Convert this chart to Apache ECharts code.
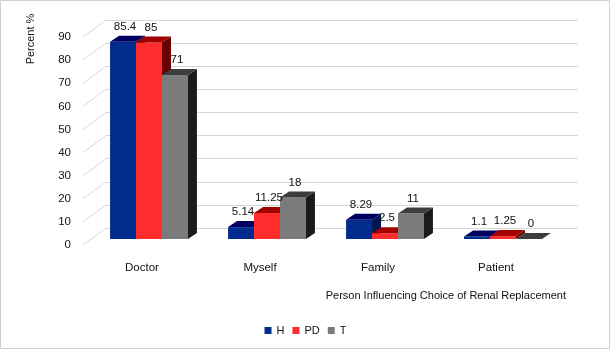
<!DOCTYPE html>
<html>
<head>
<meta charset="utf-8">
<script src="https://cdn.jsdelivr.net/npm/echarts@6/dist/echarts.min.js"></script>
<style>
  html, body { margin: 0; padding: 0; background: #fff; }
  #chart { width: 611px; height: 350px; }
</style>
</head>
<body>
<div id="chart"></div>
<script>
// data
const categories = ['Doctor', 'Myself', 'Family', 'Patient'];
const seriesNames = ['H', 'PD', 'T'];
const hValues = [85.4, 5.14, 8.29, 1.1];
const pdValues = [85, 11.25, 2.5, 1.25];
const tValues = [71, 18, 11, 0];
const yTicks = [0, 10, 20, 30, 40, 50, 60, 70, 80, 90];

const FONT = 'Liberation Sans';
const TEXT = '#111';
const GRID_LINE = '#d6d6d6';
const DEPTH = [9, -6];   // bar depth offset
const WALL = [23, -17];  // front plane -> back wall

const faces = [
  { front: '#002C8E', top: '#000060', side: '#001650' },
  { front: '#FF2D2D', top: '#A30000', side: '#6A0000' },
  { front: '#7B7B7B', top: '#3D3D3D', side: '#1B1B1B' }
];
const allValues = [hValues, pdValues, tValues];

// front face of a 3D column, with its top and right side
function barRenderer(slot) {
  const c = faces[slot];
  return function (params, api) {
    const cat = api.value(0);
    const top = api.coord([cat, api.value(1)]);
    const base = api.coord([cat, 0]);
    const bw = api.size([1, 0])[0] * 0.22;
    const x0 = top[0] + (slot - 1) * bw - bw / 2;
    const x1 = x0 + bw;
    const y0 = top[1], y1 = base[1];
    const dx = DEPTH[0], dy = DEPTH[1];
    return {
      type: 'group',
      children: [
        { type: 'polygon', shape: { points: [[x0, y1], [x1, y1], [x1, y0], [x0, y0]] }, style: { fill: c.front } },
        { type: 'polygon', shape: { points: [[x1, y1], [x1 + dx, y1 + dy], [x1 + dx, y0 + dy], [x1, y0]] }, style: { fill: c.side } },
        { type: 'polygon', shape: { points: [[x0, y0], [x1, y0], [x1 + dx, y0 + dy], [x0 + dx, y0 + dy]] }, style: { fill: c.top } }
      ]
    };
  };
}

function labelRenderer(params, api) {
  const cat = api.value(0), val = api.value(1), slot = api.value(2);
  const top = api.coord([cat, val]);
  const bw = api.size([1, 0])[0] * 0.22;
  const cx = top[0] + (slot - 1) * bw + 2;
  return {
    type: 'text',
    style: {
      text: String(val), x: cx, y: top[1] + DEPTH[1] - 3,
      align: 'center', verticalAlign: 'bottom',
      font: '11.5px "' + FONT + '"', fill: TEXT
    }
  };
}

// slanted lines from the value labels back to the wall
function wallRenderer(params, api) {
  const y = api.coord([0, api.value(1)])[1];
  const x = params.coordSys.x;
  return {
    type: 'line',
    shape: { x1: x, y1: y, x2: x + WALL[0], y2: y + WALL[1] },
    style: { stroke: GRID_LINE, lineWidth: 1 }
  };
}

const labelData = [];
allValues.forEach((arr, s) => arr.forEach((v, i) => labelData.push([i, v, s])));

const chart = echarts.init(document.getElementById('chart'));
chart.setOption({
  animation: false,
  textStyle: { fontFamily: FONT, color: TEXT },
  grid: [
    { left: 90, right: 49, top: 31, bottom: 111 },   // bar front faces
    { left: 106, right: 33, top: 20, bottom: 122 },  // back wall
    { left: 83, right: 56, top: 37, bottom: 105 }    // front plane, axis labels
  ],
  xAxis: [
    { type: 'category', gridIndex: 0, data: categories, show: false },
    { type: 'category', gridIndex: 1, data: categories, show: false },
    {
      type: 'category', gridIndex: 2, data: categories,
      axisLine: { show: false }, axisTick: { show: false },
      axisLabel: { fontSize: 11.5, color: TEXT, margin: 17 }
    }
  ],
  yAxis: [
    { type: 'value', gridIndex: 0, min: 0, max: 90, interval: 10, show: false },
    {
      type: 'value', gridIndex: 1, min: 0, max: 90, interval: 10,
      axisLine: { show: false }, axisTick: { show: false }, axisLabel: { show: false },
      splitLine: { show: true, lineStyle: { color: GRID_LINE, width: 1 } }
    },
    {
      type: 'value', gridIndex: 2, min: 0, max: 90, interval: 10,
      axisLine: { show: false }, axisTick: { show: false }, splitLine: { show: false },
      axisLabel: { fontSize: 11.5, color: TEXT, margin: 12 }
    }
  ],
  legend: {
    data: seriesNames, left: 'center', top: 320,
    icon: 'rect', itemWidth: 7, itemHeight: 7, itemGap: 8,
    textStyle: { fontSize: 11, color: TEXT, fontFamily: FONT }
  },
  graphic: [
    {
      type: 'rect', silent: true,
      shape: { x: 0.5, y: 0.5, width: 609, height: 348 },
      style: { fill: 'none', stroke: '#d0d0d0', lineWidth: 1 }
    },
    {
      type: 'text', x: 31, y: 39, rotation: Math.PI / 2,
      style: { text: 'Percent %', align: 'center', verticalAlign: 'middle', font: '11px "' + FONT + '"', fill: TEXT }
    },
    {
      type: 'text', x: 566, y: 296,
      style: { text: 'Person Influencing Choice of Renal Replacement', align: 'right', verticalAlign: 'middle', font: '11px "' + FONT + '"', fill: TEXT }
    }
  ],
  series: [
    {
      type: 'custom', name: 'wall', xAxisIndex: 2, yAxisIndex: 2, z: 1, silent: true,
      data: yTicks.map(v => [0, v]), renderItem: wallRenderer
    },
    ...seriesNames.map((name, s) => ({
      type: 'custom', name: name, xAxisIndex: 0, yAxisIndex: 0, z: 2,
      itemStyle: { color: faces[s].front },
      data: allValues[s].map((v, i) => [i, v]),
      renderItem: barRenderer(s)
    })),
    {
      type: 'custom', name: 'labels', xAxisIndex: 0, yAxisIndex: 0, z: 5, silent: true,
      data: labelData, renderItem: labelRenderer
    }
  ]
});
</script>
</body>
</html>
